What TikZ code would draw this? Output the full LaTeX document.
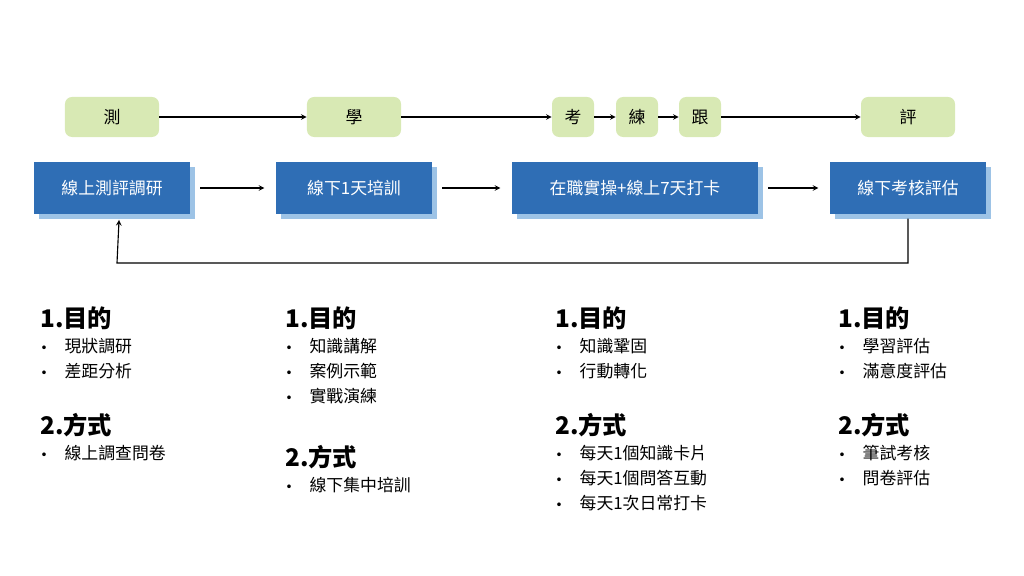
\documentclass[tikz,border=0pt]{standalone}
\usepackage{fontspec}
\setmainfont{Noto Sans CJK TC}
\newfontfamily\bulletfont{DejaVu Sans}
\usetikzlibrary{positioning}
\definecolor{pillgreen}{HTML}{D8E9B4}
\definecolor{boxblue}{HTML}{2F6EB5}
\definecolor{shadeblue}{HTML}{9DC3E6}
\newcommand{\bul}{{\bulletfont\small•}\hspace{12pt}}
\begin{document}
\begin{tikzpicture}[x=0.025cm, y=-0.025cm,
    pill/.style={rectangle, rounded corners=5pt, fill=pillgreen, minimum height=1cm, font=\large},
    stage/.style={rectangle, fill=boxblue, text=white, minimum height=1.3cm, font=\large},
    flow/.style={->, >=stealth, thick},
    head/.style={font=\LARGE\bfseries, anchor=west, inner sep=0pt},
    item/.style={font=\large, anchor=west, inner sep=0pt}
]
    \useasboundingbox (0,0) rectangle (1024,576);
    % Top pills
    \node[pill, minimum width=2.35cm] (ce) at (112,117) {測};
    \node[pill, minimum width=2.35cm] (xue) at (354,117) {學};
    \node[pill, minimum width=1.05cm] (kao) at (573,117) {考};
    \node[pill, minimum width=1.05cm] (lian) at (637,117) {練};
    \node[pill, minimum width=1.05cm] (gen) at (700,117) {跟};
    \node[pill, minimum width=2.35cm] (ping) at (908,117) {評};
    \draw[flow] (ce) -- (xue);
    \draw[flow] (xue) -- (kao);
    \draw[flow] (kao) -- (lian);
    \draw[flow] (lian) -- (gen);
    \draw[flow] (gen) -- (ping);

    % Stage boxes with shadow
    \foreach \n/\x/\w/\t in {s1/112/3.9/線上測評調研, s2/354/3.9/線下1天培訓, s3/635/6.15/在職實操+線上7天打卡, s4/908/3.9/線下考核評估} {
        \node[rectangle, fill=shadeblue, minimum width=\w cm, minimum height=1.3cm] at (\x+5,188+5) {};
        \node[stage, minimum width=\w cm] (\n) at (\x,188) {\t};
    }
    \draw[flow] ([xshift=7pt]s1.east) -- ([xshift=-8pt]s2.west);
    \draw[flow] ([xshift=7pt]s2.east) -- ([xshift=-8pt]s3.west);
    \draw[flow] ([xshift=7pt]s3.east) -- ([xshift=-8pt]s4.west);
    \coordinate (back) at (117,263);
    \draw[flow] ([yshift=-3pt]s4.south) |- (back) -- ([xshift=5pt,yshift=-4pt]s1.south);

    % Descriptions
    \node[head] at (40,318) {1.目的};
    \node[item] at (40,346) {\bul 現狀調研};
    \node[item] at (40,371) {\bul 差距分析};
    \node[head] at (40,425) {2.方式};
    \node[item] at (40,453) {\bul 線上調查問卷};

    \node[head] at (285,318) {1.目的};
    \node[item] at (285,346) {\bul 知識講解};
    \node[item] at (285,371) {\bul 案例示範};
    \node[item] at (285,396) {\bul 實戰演練};
    \node[head] at (285,457) {2.方式};
    \node[item] at (285,485) {\bul 線下集中培訓};

    \node[head] at (555,318) {1.目的};
    \node[item] at (555,346) {\bul 知識鞏固};
    \node[item] at (555,371) {\bul 行動轉化};
    \node[head] at (555,425) {2.方式};
    \node[item] at (555,453) {\bul 每天1個知識卡片};
    \node[item] at (555,478) {\bul 每天1個問答互動};
    \node[item] at (555,503) {\bul 每天1次日常打卡};

    \node[head] at (838,318) {1.目的};
    \node[item] at (838,346) {\bul 學習評估};
    \node[item] at (838,371) {\bul 滿意度評估};
    \node[head] at (838,425) {2.方式};
    \node[item] at (838,453) {\bul 筆試考核};
    \node[item] at (838,478) {\bul 問卷評估};
\end{tikzpicture}
\end{document}
